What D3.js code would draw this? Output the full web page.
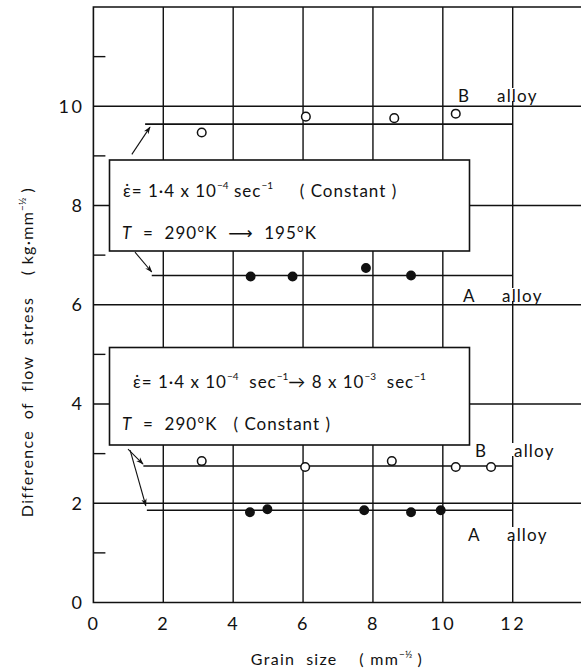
<!DOCTYPE html>
<html>
<head>
<meta charset="utf-8">
<script src="https://cdn.jsdelivr.net/npm/d3@7"></script>
<style>
  body { margin: 0; background: #fff; }
  text { font-family: "Lato", "DejaVu Sans", sans-serif; fill: #111; white-space: pre; }
</style>
</head>
<body>
<div class="svg"></div>
<script>
// tick values
const xTicks = [0, 2, 4, 6, 8, 10, 12];
const yTicks = [0, 2, 4, 6, 8, 10];
const yMinor = [1, 3, 5, 7, 9, 11];
const gridX = [2, 4, 6, 8, 10, 12];
const gridY = [2, 4, 6, 8, 10];

// upper group: strain rate constant, T 290K -> 195K
const upBx = [3.1, 6.08, 8.61, 10.37];
const upBy = [9.47, 9.79, 9.76, 9.85];
const upAx = [4.5, 5.7, 7.8, 9.09];
const upAy = [6.57, 6.57, 6.74, 6.59];
// lower group: T constant, strain rate jump
const loBx = [3.1, 6.06, 8.54, 10.37, 11.38];
const loBy = [2.85, 2.73, 2.85, 2.73, 2.73];
const loAx = [4.48, 4.98, 7.75, 9.09, 9.94];
const loAy = [1.82, 1.88, 1.86, 1.82, 1.86];

// mean lines
const fitLevel = [9.64, 6.59, 2.75, 1.86];
const fitStart = [1.48, 1.67, 1.43, 1.53];
const fitEnd = 12;

const width = 581, height = 669;

let svg = d3.select('.svg').append('svg').attr('width', width).attr('height', height);

let x = d3.scaleLinear().domain([0, 14]).range([93.4, 582.6]);
let y = d3.scaleLinear().domain([0, 12]).range([602.5, 7]);

svg.append('defs').append('marker')
    .attr('id', 'ah').attr('viewBox', '0 0 10 10')
    .attr('refX', 9).attr('refY', 5)
    .attr('markerWidth', 7).attr('markerHeight', 7)
    .attr('orient', 'auto-start-reverse')
    .append('path').attr('d', 'M0,1.5 L10,5 L0,8.5 L3,5 Z').attr('fill', '#111');

// grid
svg.append('g').selectAll('line').data(gridX).enter().append('line')
    .attr('x1', d => x(d)).attr('x2', d => x(d))
    .attr('y1', y(12)).attr('y2', y(0))
    .attr('stroke', '#111').attr('stroke-width', 1.4);
svg.append('g').selectAll('line').data(gridY).enter().append('line')
    .attr('x1', x(0)).attr('x2', x(14))
    .attr('y1', d => y(d)).attr('y2', d => y(d))
    .attr('stroke', '#111').attr('stroke-width', 1.4);

// frame
svg.append('path')
    .attr('d', 'M' + x(14) + ',' + y(12) + 'H' + x(0) + 'V' + y(0) + 'H' + x(14))
    .attr('fill', 'none').attr('stroke', '#111').attr('stroke-width', 1.6);

// minor ticks
svg.append('g').selectAll('line').data(yMinor).enter().append('line')
    .attr('x1', x(0)).attr('x2', x(0) + 12)
    .attr('y1', d => y(d)).attr('y2', d => y(d))
    .attr('stroke', '#111').attr('stroke-width', 1.4);

// axes (labels only)
let axisX = d3.axisBottom(x).tickValues(xTicks).tickSize(0).tickPadding(15).tickFormat(d3.format('d'));
let axisY = d3.axisLeft(y).tickValues(yTicks).tickSize(0).tickPadding(9).tickFormat(d3.format('d'));
let gx = svg.append('g').attr('transform', 'translate(0,' + y(0) + ')').call(axisX);
let gy = svg.append('g').attr('transform', 'translate(' + x(0) + ',0)').call(axisY);
[gx, gy].forEach(g => {
    g.select('.domain').remove();
    g.selectAll('text').attr('font-size', 18).attr('letter-spacing', 2.5)
        .attr('font-family', 'Lato, DejaVu Sans, sans-serif').attr('fill', '#111');
});

// axis titles
let xt = svg.append('text').attr('x', 337).attr('y', 665).attr('text-anchor', 'middle')
    .attr('font-size', 16).attr('letter-spacing', 1.3);
xt.append('tspan').text('Grain  size    ( mm');
xt.append('tspan').attr('dy', -7).attr('font-size', 10).attr('letter-spacing', 0).text('−½');
xt.append('tspan').attr('dy', 7).text(' )');

let yt = svg.append('text').attr('transform', 'translate(33,352) rotate(-90)')
    .attr('text-anchor', 'middle').attr('font-size', 16).attr('letter-spacing', 1.3);
yt.append('tspan').text('Difference  of  flow  stress    ( kg·mm');
yt.append('tspan').attr('dy', -7).attr('font-size', 10).attr('letter-spacing', 0).text('−½');
yt.append('tspan').attr('dy', 7).text(' )');

// mean lines
svg.append('g').selectAll('line').data(fitLevel).enter().append('line')
    .attr('x1', (d, i) => x(fitStart[i])).attr('x2', x(fitEnd))
    .attr('y1', d => y(d)).attr('y2', d => y(d))
    .attr('stroke', '#111').attr('stroke-width', 1.6);

// points
function pts(xs, ys, filled) {
    svg.append('g').selectAll('circle').data(xs).enter().append('circle')
        .attr('cx', d => x(d)).attr('cy', (d, i) => y(ys[i]))
        .attr('r', filled ? 4.2 : 4.3)
        .attr('fill', filled ? '#111' : '#fff')
        .attr('stroke', '#111').attr('stroke-width', 1.5);
}
pts(upBx, upBy, false);
pts(upAx, upAy, true);
pts(loBx, loBy, false);
pts(loAx, loAy, true);

// arrows from boxes to lines
const arrows = [
    [[1.10, 9.03], [1.62, 9.58]],
    [[1.19, 7.06], [1.67, 6.66]],
    [[0.99, 3.09], [1.42, 2.79]],
    [[1.05, 3.07], [1.50, 1.95]]
];
svg.append('g').selectAll('line').data(arrows).enter().append('line')
    .attr('x1', d => x(d[0][0])).attr('y1', d => y(d[0][1]))
    .attr('x2', d => x(d[1][0])).attr('y2', d => y(d[1][1]))
    .attr('stroke', '#111').attr('stroke-width', 1.1)
    .attr('marker-end', 'url(#ah)');

// alloy labels
function alloy(letter, lx, ly) {
    svg.append('rect').attr('x', lx + 37).attr('y', ly - 14).attr('width', 46).attr('height', 13).attr('fill', '#fff');
    svg.append('text').attr('x', lx).attr('y', ly).attr('font-size', 17).text(letter);
    svg.append('text').attr('x', lx + 39).attr('y', ly).attr('font-size', 17).attr('letter-spacing', 1.2).text('alloy');
}
alloy('B', 458, 102);
alloy('A', 463, 302);
alloy('B', 475, 457);
alloy('A', 468, 541);

// condition boxes
function box(bx, by, bw, bh) {
    svg.append('rect').attr('x', bx).attr('y', by).attr('width', bw).attr('height', bh)
        .attr('fill', '#fff').attr('stroke', '#111').attr('stroke-width', 1.6);
}
function sup(t, s) {
    t.append('tspan').attr('dy', -8).attr('font-size', 10).attr('letter-spacing', 0).text(s);
    return t.append('tspan').attr('dy', 8);
}
function boxText(tx, ty) {
    return svg.append('text').attr('x', tx).attr('y', ty).attr('font-size', 17).attr('letter-spacing', 1);
}
box(109.5, 160, 360, 91);
let t1 = boxText(123, 197);
t1.append('tspan').text('ε̇= 1·4 x 10');
sup(t1, '−4').text(' sec');
sup(t1, '−1').text('     ( Constant )');
let t2 = boxText(122, 239);
t2.append('tspan').attr('font-style', 'italic').text('T');
t2.append('tspan').text('  =  290°K  ⟶  195°K');

box(109.5, 347.5, 360, 97.5);
let t3 = boxText(133, 388);
t3.append('tspan').text('ε̇= 1·4 x 10');
sup(t3, '−4').text('  sec');
sup(t3, '−1').text('→ 8 x 10');
sup(t3, '−3').text('  sec');
sup(t3, '−1');
let t4 = boxText(122, 430);
t4.append('tspan').attr('font-style', 'italic').text('T');
t4.append('tspan').text('  =  290°K   ( Constant )');
</script>
</body>
</html>
